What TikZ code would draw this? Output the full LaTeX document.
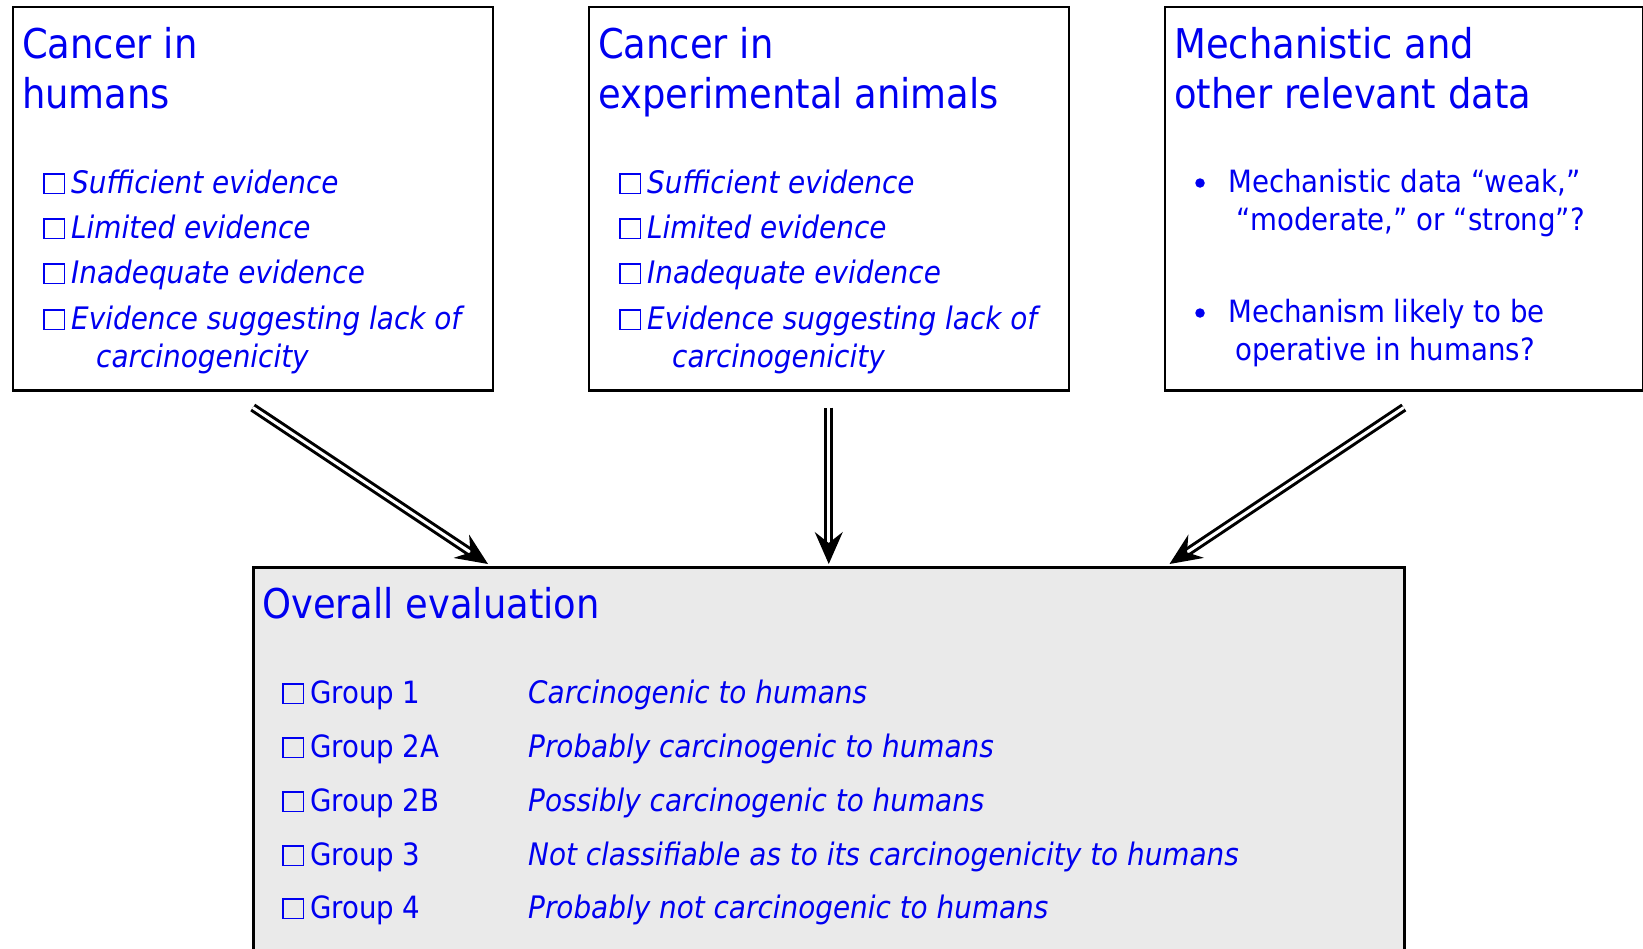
\documentclass[tikz,border=0pt]{standalone}
\usepackage{fontspec}
\setmainfont{DejaVu Sans Condensed}
\usetikzlibrary{arrows.meta,positioning,calc}
\definecolor{textblue}{RGB}{0,0,240}
\definecolor{evalgray}{RGB}{234,234,234}
\newcommand{\tickbox}{{\fboxsep=0pt\fboxrule=1.3pt\framebox[22pt]{\rule{0pt}{18.5pt}}}}
\tikzset{
    panel/.style={
           rectangle,
           draw=black, line width=2.5pt,
           anchor=north west,
           inner sep=0pt,
           },
    heading/.style={anchor=base west, inner sep=0pt, text=textblue,
           font=\fontsize{41}{50}\selectfont},
    entry/.style={anchor=base west, inner sep=0pt, text=textblue,
           font=\fontsize{31}{39}\selectfont\itshape},
    point/.style={anchor=base west, inner sep=0pt, text=textblue,
           font=\fontsize{30.7}{38}\selectfont},
    dot/.style={circle, fill=textblue, inner sep=0pt, minimum size=9.5pt},
    flow/.style={draw=black, line width=3pt, double, double distance=3pt,
           shorten >=15pt},
    flowtip/.style={draw=black, fill=black, line width=1.5pt,
           -{Stealth[length=32pt,width=28pt,inset=11pt]}},
}

\begin{document}
\begin{tikzpicture}[x=1pt,y=-1pt]
  \path[use as bounding box, clip] (0,0) rectangle (1643,948);

  % the four boxes
  \node[panel, minimum width=480pt, minimum height=383.5pt] (humans)  at (11.5,5.5)  {};
  \node[panel, minimum width=480pt, minimum height=383.5pt] (animals) at (587.5,5.5) {};
  \node[panel, minimum width=478pt, minimum height=383.5pt] (mech)    at (1163.5,5.5) {};
  \node[panel, fill=evalgray, minimum width=1151pt, minimum height=450pt] (overall) at (252,566) {};

  % headings
  \node[heading] (humans-t1)  at (22,58)   {Cancer in};
  \node[heading] (humans-t2)  at (22,108)  {humans};
  \node[heading] (animals-t1) at (598,58)  {Cancer in};
  \node[heading] (animals-t2) at (598,108) {experimental animals};
  \node[heading] (mech-t1)    at (1174,58) {Mechanistic and};
  \node[heading] (mech-t2)    at (1174,108) {other relevant data};
  \node[heading] (overall-t)  at (262,618) {Overall evaluation};

  % evidence lists
  \foreach \b/\dx in {humans/0, animals/576} {
    \node[entry] (\b-1)  at (43+\dx,193) {\tickbox\hspace{6pt}Sufficient evidence};
    \node[entry] (\b-2)  at (43+\dx,238) {\tickbox\hspace{6pt}Limited evidence};
    \node[entry] (\b-3)  at (43+\dx,283) {\tickbox\hspace{6pt}Inadequate evidence};
    \node[entry] (\b-4)  at (43+\dx,329) {\tickbox\hspace{6pt}Evidence suggesting lack of};
    \node[entry] (\b-4b) at (96+\dx,367) {carcinogenicity};
  }

  % mechanistic data
  \node[dot]   (dot1)    at (1200,183) {};
  \node[point] (mech-1a) at (1228,192) {Mechanistic data “weak,”};
  \node[point] (mech-1b) at (1236,230) {“moderate,” or “strong”?};
  \node[dot]   (dot2)    at (1200,313) {};
  \node[point] (mech-2a) at (1228,322) {Mechanism likely to be};
  \node[point] (mech-2b) at (1235,360) {operative in humans?};

  % groups
  \node[point] (g1)  at (282,703) {\tickbox\hspace{6pt}Group 1};
  \node[point] (g2a) at (282,757) {\tickbox\hspace{6pt}Group 2A};
  \node[point] (g2b) at (282,811) {\tickbox\hspace{6pt}Group 2B};
  \node[point] (g3)  at (282,865) {\tickbox\hspace{6pt}Group 3};
  \node[point] (g4)  at (282,918) {\tickbox\hspace{6pt}Group 4};
  \node[entry] (d1)  at (528,703) {Carcinogenic to humans};
  \node[entry] (d2a) at (528,757) {Probably carcinogenic to humans};
  \node[entry] (d2b) at (528,811) {Possibly carcinogenic to humans};
  \node[entry] (d3)  at (528,865) {Not classifiable as to its carcinogenicity to humans};
  \node[entry] (d4)  at (528,918) {Probably not carcinogenic to humans};

  % arrows
  \coordinate (humans-out)  at ($(humans.south)+(0,16)$);
  \coordinate (animals-out) at ($(animals.south)+(0,16)$);
  \coordinate (mech-out)    at ($(mech.south)+(0,16)$);
  \coordinate (humans-in)   at ($(overall.north west)+(236,-2)$);
  \coordinate (animals-in)  at ($(animals.south |- overall.north)+(0,-2)$);
  \coordinate (mech-in)     at ($(overall.north east)+(-236,-2)$);

  \draw[flow]    (humans-out) -- (humans-in);
  \draw[flowtip] ($(humans-in)!20pt!(humans-out)$) -- (humans-in);
  \draw[flow]    (animals-out) -- (animals-in);
  \draw[flowtip] ($(animals-in)!20pt!(animals-out)$) -- (animals-in);
  \draw[flow]    (mech-out) -- (mech-in);
  \draw[flowtip] ($(mech-in)!20pt!(mech-out)$) -- (mech-in);

\end{tikzpicture}
\end{document}
